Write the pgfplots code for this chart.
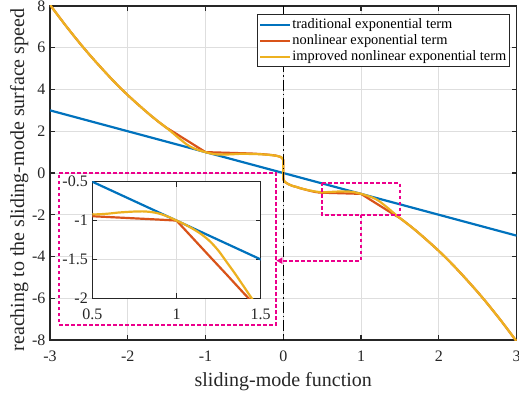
\documentclass[border=0pt]{standalone}
\usepackage{pgfplots}
\pgfplotsset{compat=1.18}
\usepackage{fontspec}
\setmainfont{Liberation Serif}
\usetikzlibrary{arrows.meta}
\definecolor{mblue}{rgb}{0,0.447,0.741}
\definecolor{mred}{rgb}{0.85,0.325,0.098}
\definecolor{myellow}{rgb}{0.929,0.694,0.125}
\definecolor{axgray}{rgb}{0.15,0.15,0.15}
\definecolor{gridgray}{rgb}{0.87,0.87,0.87}

\pgfplotsset{
  common/.style={
    scale only axis,
    xticklabel={\pgfmathprintnumber[assume math mode=true]{\tick}},
    yticklabel={\pgfmathprintnumber[assume math mode=true]{\tick}},
    ticklabel style={font=\fontsize{16}{16}\selectfont, text=axgray},
    xticklabel style={yshift=-7pt},
    yticklabel style={xshift=-1pt},
    grid=major,
    major grid style={gridgray, line width=0.7pt},
    tick align=inside,
    major tick length=5pt,
    axis line style={axgray, line width=1.4pt},
    every tick/.style={axgray, line width=1.4pt},
    xtick pos=both, ytick pos=both,
  },
}

\begin{document}
\begin{tikzpicture}
\path[use as bounding box] (-50pt,-56pt) rectangle (469pt,340pt);
\begin{axis}[common,
  name=main, at={(0pt,0pt)}, anchor=south west,
  width=466.5pt, height=334pt,
  xmin=-3, xmax=3, ymin=-8, ymax=8,
  xtick={-3,-2,-1,0,1,2,3},
  ytick={-8,-6,-4,-2,0,2,4,6,8},
  xlabel={sliding-mode function},
  ylabel={reaching to the sliding-mode surface speed},
  label style={font=\fontsize{20}{20}\selectfont, text=axgray},
  xlabel style={at={(axis description cs:0.5,-0.1398)}, anchor=base},
  ylabel style={at={(axis description cs:-0.0557,0.479)}, anchor=base},
  legend style={at={(axis description cs:0.986,0.975)}, anchor=north east,
    draw=axgray, line width=0.8pt, fill=white,
    font=\fontsize{14.4}{16}\selectfont,
    nodes={inner xsep=1.2pt, inner ysep=1pt, text height=10.3pt, text depth=3.7pt},
    inner xsep=2pt, inner ysep=2pt, column sep=0pt, row sep=0pt},
  legend cell align=left,
  legend image code/.code={\draw[#1] (0pt,0pt) -- (30pt,0pt);},
]
\addplot[mblue, line width=2.2pt] coordinates {(-3,3) (3,-3)};
\addlegendentry{traditional exponential term}

\addplot[mred, line width=2.2pt] coordinates {
(-3.0,8.06) (-2.9,7.56) (-2.8,7.07) (-2.7,6.60) (-2.6,6.14) (-2.5,5.70) (-2.4,5.28) (-2.3,4.87) (-2.2,4.47) (-2.1,4.09) (-2.0,3.73) (-1.9,3.39) (-1.8,3.06) (-1.7,2.74) (-1.6,2.44) (-1.5,2.16)
(-1.4,1.936) (-1.3,1.70) (-1.2,1.468) (-1.1,1.234) (-1.0,1.0)
(-0.9,0.988) (-0.8,0.977) (-0.7,0.966) (-0.6,0.955) (-0.5,0.944) (-0.4,0.93) (-0.3,0.91) (-0.2,0.88) (-0.15,0.86) (-0.1,0.835) (-0.06,0.8) (-0.03,0.76) (-0.01,0.7) (-0.0005,0.62)
(0.0005,-0.25) (0.005,-0.34) (0.015,-0.40) (0.03,-0.45) (0.05,-0.50) (0.08,-0.56) (0.12,-0.62) (0.17,-0.67) (0.22,-0.73) (0.27,-0.78) (0.33,-0.84) (0.4,-0.9) (0.45,-0.93) (0.5,-0.944) (0.6,-0.955) (0.7,-0.966) (0.8,-0.977) (0.9,-0.988) (1.0,-1.0)
(1.1,-1.234) (1.2,-1.468) (1.3,-1.70) (1.4,-1.936) (1.5,-2.16)
(1.6,-2.44) (1.7,-2.74) (1.8,-3.06) (1.9,-3.39) (2.0,-3.73) (2.1,-4.09) (2.2,-4.47) (2.3,-4.87) (2.4,-5.28) (2.5,-5.70) (2.6,-6.14) (2.7,-6.60) (2.8,-7.07) (2.9,-7.56) (3.0,-8.06)
};
\addlegendentry{nonlinear exponential term}

\addplot[myellow, line width=2.2pt] coordinates {
(-3.0,8.06) (-2.9,7.56) (-2.8,7.07) (-2.7,6.60) (-2.6,6.14) (-2.5,5.70) (-2.4,5.28) (-2.3,4.87) (-2.2,4.47) (-2.1,4.09) (-2.0,3.73) (-1.9,3.39) (-1.8,3.06) (-1.7,2.74) (-1.6,2.44) (-1.5,2.16)
(-1.45,2.01) (-1.4,1.85) (-1.35,1.69) (-1.3,1.54) (-1.25,1.39) (-1.2,1.27) (-1.15,1.18) (-1.1,1.11) (-1.05,1.05) (-1.0,1.0)
(-0.95,0.95) (-0.9,0.912) (-0.85,0.89) (-0.8,0.882) (-0.75,0.884) (-0.7,0.89) (-0.65,0.898) (-0.6,0.91) (-0.55,0.918) (-0.5,0.92)
(-0.4,0.91) (-0.3,0.90) (-0.2,0.875) (-0.15,0.855) (-0.1,0.83) (-0.06,0.8) (-0.03,0.76) (-0.01,0.7) (-0.0005,0.62)
(0.0005,-0.25) (0.005,-0.34) (0.015,-0.40) (0.03,-0.45) (0.05,-0.50) (0.08,-0.56) (0.12,-0.62) (0.17,-0.67) (0.22,-0.73) (0.27,-0.78) (0.33,-0.83) (0.4,-0.88) (0.45,-0.905) (0.5,-0.92)
(0.55,-0.918) (0.6,-0.91) (0.65,-0.898) (0.7,-0.89) (0.75,-0.884) (0.8,-0.882) (0.85,-0.89) (0.9,-0.912) (0.95,-0.95) (1.0,-1.0)
(1.05,-1.05) (1.1,-1.11) (1.15,-1.18) (1.2,-1.27) (1.25,-1.39) (1.3,-1.54) (1.35,-1.69) (1.4,-1.85) (1.45,-2.01) (1.5,-2.16)
(1.6,-2.44) (1.7,-2.74) (1.8,-3.06) (1.9,-3.39) (2.0,-3.73) (2.1,-4.09) (2.2,-4.47) (2.3,-4.87) (2.4,-5.28) (2.5,-5.70) (2.6,-6.14) (2.7,-6.60) (2.8,-7.07) (2.9,-7.56) (3.0,-8.06)
};
\addlegendentry{improved nonlinear exponential term}

\addplot[black, line width=1.5pt, dash pattern=on 11pt off 3pt on 1.5pt off 3pt, forget plot] coordinates {(0,8) (0,-8)};

\addplot[magenta, line width=2pt, dash pattern=on 3.5pt off 2.5pt, forget plot] coordinates {(-2.88,0) (-0.09,0) (-0.09,-7.27) (-2.88,-7.27) (-2.88,0)};
\addplot[magenta, line width=2pt, dash pattern=on 3.5pt off 2.5pt, forget plot] coordinates {(0.5,-0.5) (1.5,-0.5) (1.5,-2) (0.5,-2) (0.5,-0.5)};
\addplot[magenta, line width=2pt, dash pattern=on 3.5pt off 2.5pt, -{Triangle[length=6pt,width=6pt]}, forget plot] coordinates {(1,-2) (1,-4.2) (-0.09,-4.2)};
\end{axis}

\begin{axis}[common,
  at={(42.3pt,41.7pt)}, anchor=south west,
  width=168.4pt, height=116.6pt,
  xmin=0.5, xmax=1.5, ymin=-2, ymax=-0.5,
  xtick={0.5,1,1.5},
  ytick={-2,-1.5,-1,-0.5},
  axis background/.style={fill=white},
]
\addplot[mblue, line width=2.2pt] coordinates {(0.4,-0.4) (1.6,-1.6)};
\addplot[mred, line width=2.2pt] coordinates {
(0.4,-0.9) (0.45,-0.93) (0.5,-0.944) (0.6,-0.955) (0.7,-0.966) (0.8,-0.977) (0.9,-0.988) (1.0,-1.0)
(1.1,-1.234) (1.2,-1.468) (1.3,-1.70) (1.4,-1.936) (1.5,-2.16) (1.6,-2.44)
};
\addplot[myellow, line width=2.2pt, smooth] coordinates {
(0.4,-0.88) (0.45,-0.905) (0.5,-0.92)
(0.55,-0.918) (0.6,-0.91) (0.65,-0.898) (0.7,-0.89) (0.75,-0.884) (0.8,-0.882) (0.85,-0.89) (0.9,-0.912) (0.95,-0.95) (1.0,-1.0)
(1.05,-1.05) (1.1,-1.11) (1.15,-1.18) (1.2,-1.27) (1.25,-1.39) (1.3,-1.54) (1.35,-1.69) (1.4,-1.85) (1.45,-2.01) (1.5,-2.16) (1.6,-2.44)
};
\end{axis}
\end{tikzpicture}
\end{document}
